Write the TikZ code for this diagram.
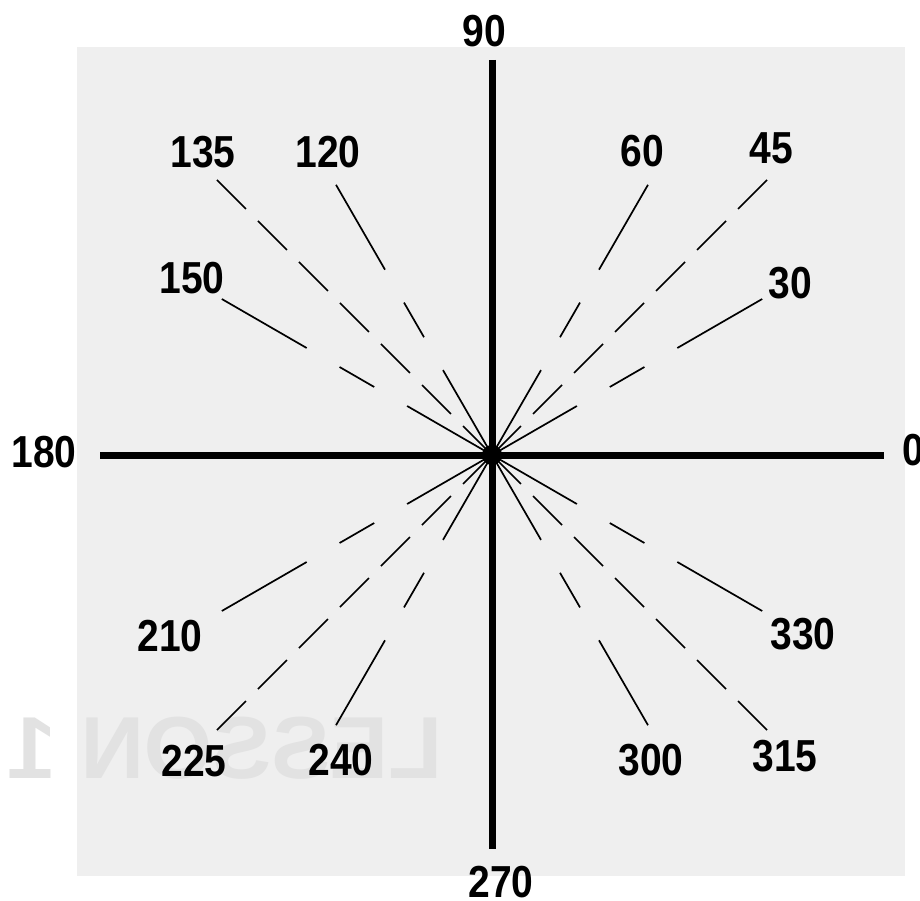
\documentclass[tikz,border=0pt]{standalone}
\usepackage{fontspec}
\setmainfont{Liberation Sans}
\usetikzlibrary{calc}
\definecolor{bgpanel}{HTML}{EFEFEF}
\definecolor{ghost}{HTML}{E2E2E2}
\newcommand{\tallnum}[1]{\scalebox{1}[1.15]{#1}}
\begin{document}
\begin{tikzpicture}[x=1pt,y=1pt,
  axisline/.style={line width=7pt},
  raydash/.style={line width=1.7pt, dash pattern=on 41pt off 17pt},
  raydot/.style={line width=1.7pt, dash pattern=on 98pt off 38pt on 40pt off 38pt on 120pt off 10pt},
  lab/.style={font=\fontsize{39}{39}\selectfont\bfseries, inner sep=0pt},
  ghosttext/.style={font=\fontsize{88}{88}\selectfont\bfseries, text=ghost, inner sep=0pt, xscale=-1, transform shape}]
\useasboundingbox (0,0) rectangle (920,-901);
\fill[white] (0,0) rectangle (920,-901);
\fill[bgpanel] (77,-47) rectangle (905,-876);
\node[ghosttext] (ghostlbl) at (225,-748) {LESSON 1};
\coordinate (c) at (492,-455);
% axes
\coordinate (axL) at (100,-455);
\coordinate (axR) at (884,-455);
\coordinate (axT) at (492,-60);
\coordinate (axB) at (492,-849);
\draw[axisline] (axL) -- (axR);
\draw[axisline] (axT) -- (axB);
% diagonal rays (even dashes)
\foreach \a in {45,135,225,315}{
  \path (c) ++(\a:389) coordinate (e\a);
  \draw[raydash] (c) -- (e\a);
}
% rays with long-short-long dashes
\foreach \a in {30,60,120,150,210,240,300,330}{
  \path (c) ++(\a:312) coordinate (e\a);
  \draw[raydot] (c) -- (e\a);
}
\node[circle, fill=black, inner sep=0pt, minimum size=20pt] (dot) at (c) {};
% labels
\node[lab] (l90) at (484,-31) {\tallnum{90}};
\node[lab] (l270) at (501,-882) {\tallnum{270}};
\node[lab] (l180) at (44,-452) {\tallnum{180}};
\node[lab] (l0) at (913,-450) {\tallnum{0}};
\node[lab] (l135) at (203,-152) {\tallnum{135}};
\node[lab] (l120) at (328,-152) {\tallnum{120}};
\node[lab] (l150) at (192,-278) {\tallnum{150}};
\node[lab] (l60) at (642,-151) {\tallnum{60}};
\node[lab] (l45) at (771,-148) {\tallnum{45}};
\node[lab] (l30) at (790,-283) {\tallnum{30}};
\node[lab] (l210) at (170,-636) {\tallnum{210}};
\node[lab] (l225) at (194,-761) {\tallnum{225}};
\node[lab] (l240) at (341,-760) {\tallnum{240}};
\node[lab] (l300) at (651,-760) {\tallnum{300}};
\node[lab] (l315) at (785,-756) {\tallnum{315}};
\node[lab] (l330) at (803,-634) {\tallnum{330}};
\end{tikzpicture}
\end{document}
